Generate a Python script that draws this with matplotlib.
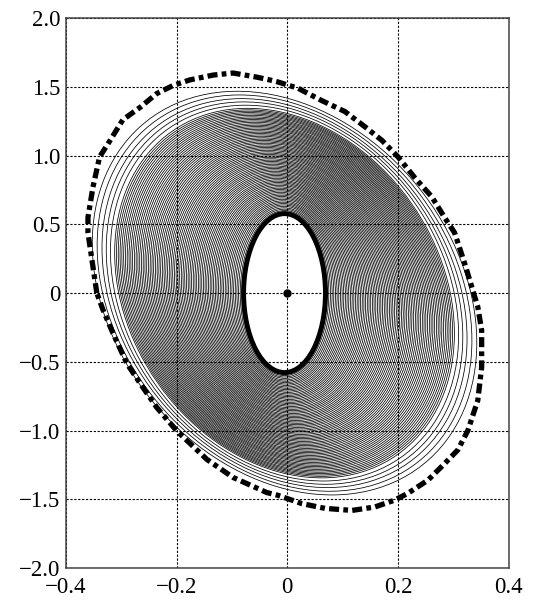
import matplotlib
matplotlib.use("Agg")
import matplotlib.pyplot as plt
from matplotlib.patches import Ellipse

plt.rcParams["font.family"] = ["Liberation Serif", "DejaVu Serif"]

# axis ticks and labels
x_ticks = [-0.4, -0.2, 0.0, 0.2, 0.4]
x_tick_labels = ["\u22120.4", "\u22120.2", "0", "0.2", "0.4"]
y_ticks = [-2.0, -1.5, -1.0, -0.5, 0.0, 0.5, 1.0, 1.5, 2.0]
y_tick_labels = ["\u22122.0", "\u22121.5", "\u22121.0", "\u22120.5", "0",
                 "0.5", "1.0", "1.5", "2.0"]

# thin trajectories (half-width, half-height, tilt in degrees)
ring_center = (-0.005, 0.0)
ring_half_w = [0.080, 0.083, 0.086, 0.089, 0.092, 0.095, 0.098, 0.101, 0.104, 0.107, 0.110,
               0.113, 0.116, 0.119, 0.122, 0.125, 0.128, 0.131, 0.134, 0.137, 0.140,
               0.143, 0.146, 0.149, 0.152, 0.155, 0.158, 0.161, 0.164, 0.167, 0.170,
               0.173, 0.176, 0.179, 0.182, 0.185, 0.188, 0.191, 0.194, 0.197, 0.200,
               0.203, 0.206, 0.209, 0.212, 0.215, 0.218, 0.221, 0.224, 0.227, 0.230,
               0.233, 0.236, 0.239, 0.242, 0.245, 0.248, 0.251, 0.254, 0.257, 0.260,
               0.263, 0.266, 0.269, 0.272, 0.275, 0.278, 0.281, 0.284, 0.287, 0.290,
               0.293, 0.296, 0.299, 0.306, 0.313, 0.320, 0.328, 0.336]
ring_half_h = [0.600, 0.610, 0.620, 0.631, 0.641, 0.651, 0.661, 0.671, 0.682, 0.692, 0.702,
               0.712, 0.722, 0.733, 0.743, 0.753, 0.763, 0.773, 0.784, 0.794, 0.804,
               0.814, 0.824, 0.835, 0.845, 0.855, 0.865, 0.875, 0.886, 0.896, 0.906,
               0.916, 0.926, 0.937, 0.947, 0.957, 0.967, 0.977, 0.988, 0.998, 1.008,
               1.018, 1.028, 1.039, 1.049, 1.059, 1.069, 1.079, 1.090, 1.100, 1.110,
               1.120, 1.130, 1.141, 1.151, 1.161, 1.171, 1.181, 1.192, 1.202, 1.212,
               1.222, 1.232, 1.243, 1.253, 1.263, 1.273, 1.283, 1.294, 1.304, 1.314,
               1.324, 1.334, 1.345, 1.368, 1.392, 1.416, 1.443, 1.470]
ring_tilt = [0.00, 0.04, 0.08, 0.12, 0.16, 0.21, 0.25, 0.29, 0.33, 0.37, 0.41,
             0.45, 0.49, 0.53, 0.58, 0.62, 0.66, 0.70, 0.74, 0.78, 0.82,
             0.86, 0.90, 0.95, 0.99, 1.03, 1.07, 1.11, 1.15, 1.19, 1.23,
             1.27, 1.32, 1.36, 1.40, 1.44, 1.48, 1.52, 1.56, 1.60, 1.64,
             1.69, 1.73, 1.77, 1.81, 1.85, 1.89, 1.93, 1.97, 2.01, 2.06,
             2.10, 2.14, 2.18, 2.22, 2.26, 2.30, 2.34, 2.38, 2.42, 2.47,
             2.51, 2.55, 2.59, 2.63, 2.67, 2.71, 2.75, 2.79, 2.84, 2.88,
             2.92, 2.96, 3.00, 3.10, 3.19, 3.29, 3.40, 3.51]

# inner limit cycle (thick ellipse)
inner_center = (-0.005, 0.0)
inner_half_w = 0.074
inner_half_h = 0.578

# outer boundary (dash-dot), points read around the curve
outer_x = [-0.344, -0.360, -0.360, -0.351, -0.339, -0.320, -0.297, -0.266, -0.236, -0.206,
           -0.176, -0.134, -0.098, -0.055, -0.032, -0.017, 0.019, 0.062, 0.104, 0.140,
           0.171, 0.200, 0.230, 0.261, 0.284, 0.302, 0.320, 0.335, 0.344, 0.351,
           0.351, 0.344, 0.326, 0.308, 0.284, 0.254, 0.218, 0.194, 0.158, 0.117,
           0.068, 0.026, -0.017, -0.037, -0.098, -0.145, -0.200, -0.236, -0.266, -0.290,
           -0.315, -0.333, -0.344]
outer_y = [0.00, 0.44, 0.55, 0.77, 0.99, 1.11, 1.26, 1.35, 1.45, 1.51,
           1.55, 1.585, 1.60, 1.57, 1.55, 1.535, 1.49, 1.40, 1.32, 1.21,
           1.11, 0.99, 0.84, 0.70, 0.55, 0.44, 0.22, 0.02, -0.10, -0.27,
           -0.54, -0.78, -1.00, -1.14, -1.24, -1.36, -1.455, -1.505, -1.555, -1.58,
           -1.565, -1.53, -1.47, -1.45, -1.34, -1.21, -1.00, -0.83, -0.655, -0.51,
           -0.29, -0.12, 0.00]

# equilibrium point
eq_x = [0.0]
eq_y = [0.0]

fig = plt.figure(figsize=(5.35, 6.0), dpi=100)
ax = fig.add_axes([0.123, 0.053, 0.828, 0.917])

for w, h, t in zip(ring_half_w, ring_half_h, ring_tilt):
    ax.add_patch(Ellipse(ring_center, 2 * w, 2 * h, angle=t, fill=False,
                         edgecolor="black", linewidth=0.55, zorder=2))

ax.add_patch(Ellipse(inner_center, 2 * inner_half_w, 2 * inner_half_h, fill=False,
                     edgecolor="black", linewidth=3.6, zorder=3))

# dash pattern is in units of line width: long dash, gap, dot, gap
ax.plot(outer_x, outer_y, color="black", linewidth=3.8,
        linestyle=(0, (1.9, 0.8, 0.9, 0.8)), dash_capstyle="butt", zorder=4)

ax.plot(eq_x, eq_y, "o", color="black", markersize=5, zorder=5)

ax.set_xlim(-0.4, 0.4)
ax.set_ylim(-2.0, 2.0)
ax.set_xticks(x_ticks)
ax.set_xticklabels(x_tick_labels)
ax.set_yticks(y_ticks)
ax.set_yticklabels(y_tick_labels)
ax.tick_params(length=0, labelsize=16.5)
ax.tick_params(axis="y", pad=4)
ax.tick_params(axis="x", pad=6)
ax.grid(True, color="black", linewidth=0.8, linestyle=(0, (2, 1.5)))
for s in ax.spines.values():
    s.set_color("#444444")
    s.set_linewidth(1.1)

fig.savefig("out.png", dpi=100)
